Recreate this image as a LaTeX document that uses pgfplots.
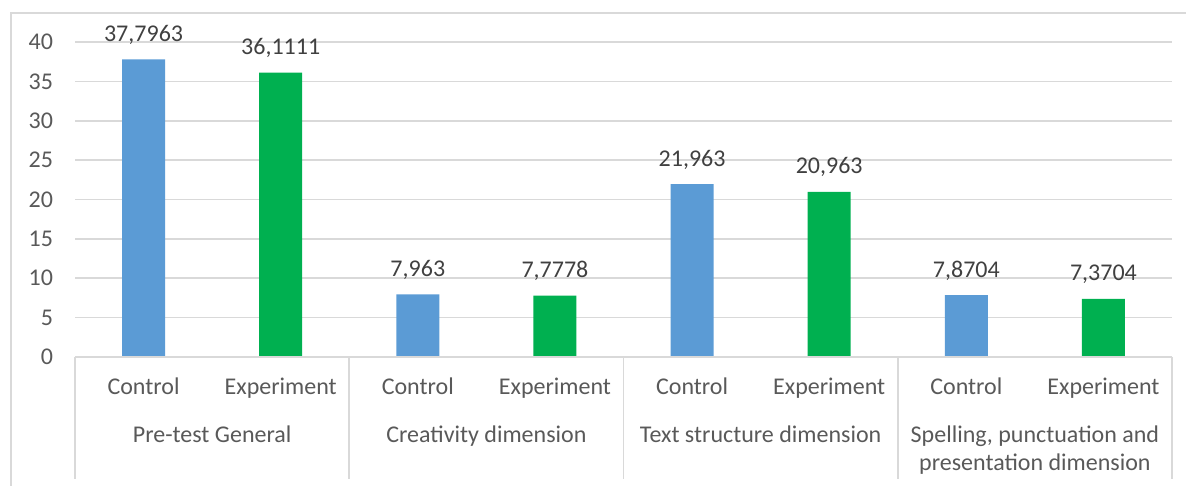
\documentclass[border=0pt]{standalone}
\usepackage{pgfplots}
\pgfplotsset{compat=1.18}
\usepackage{fontspec}
\setmainfont{Carlito}
\definecolor{cblue}{HTML}{5B9BD5}
\definecolor{cgreen}{HTML}{00B050}
\definecolor{cgrid}{HTML}{D9D9D9}
\definecolor{ctext}{HTML}{595959}
\definecolor{clab}{HTML}{404040}
\begin{document}
\begin{tikzpicture}[font=\fontsize{12}{14.4}\selectfont]
\useasboundingbox (0,0) rectangle (593pt,243pt);
\draw[cgrid, line width=0.9pt] (5.5pt,-5pt) -- (5.5pt,236.5pt) -- (600pt,236.5pt);
\begin{axis}[
  at={(37.5pt,64.5pt)}, anchor=south west,
  width=548.5pt, height=157.5pt, scale only axis,
  xmin=-0.5, xmax=7.5, ymin=0, ymax=40,
  ytick={0,5,...,40},
  xtick={0,1,...,7},
  xticklabels={Control,Experiment,Control,Experiment,Control,Experiment,Control,Experiment},
  axis line style={draw=none},
  major tick length=0pt,
  ymajorgrids, grid style={cgrid, line width=0.75pt},
  tick label style={text=ctext},
  /pgf/number format/assume math mode=true,
  yticklabel style={xshift=-7.5pt},
  xticklabel style={anchor=base, yshift=-19pt},
  ybar, bar width=21.5pt, bar shift=0pt,
  nodes near coords,
  point meta=explicit symbolic,
  every node near coord/.append style={anchor=base, yshift=9pt, text=clab, font=\fontsize{12}{14.4}\selectfont},
  clip=false,
]
\addplot[fill=cblue, draw=none] table[x=x, y=y, meta=lab] {
x y lab
0 37.7963 37,7963
2 7.963 7,963
4 21.963 21,963
6 7.8704 7,8704
};
\addplot[fill=cgreen, draw=none] table[x=x, y=y, meta=lab] {
x y lab
1 36.1111 36,1111
3 7.7778 7,7778
5 20.963 20,963
7 7.3704 7,3704
};
\draw[cgrid, line width=0.9pt] (axis cs:-0.5,0) -- (axis cs:7.5,0);
\draw[cgrid, line width=0.9pt] (axis cs:-0.5,0) -- ([yshift=-61pt]axis cs:-0.5,0);
\draw[cgrid, line width=0.9pt] (axis cs:1.5,0) -- ([yshift=-61pt]axis cs:1.5,0);
\draw[cgrid, line width=0.9pt] (axis cs:3.5,0) -- ([yshift=-61pt]axis cs:3.5,0);
\draw[cgrid, line width=0.9pt] (axis cs:5.5,0) -- ([yshift=-61pt]axis cs:5.5,0);
\draw[cgrid, line width=0.9pt] (axis cs:7.5,0) -- ([yshift=-61pt]axis cs:7.5,0);
\node[anchor=base, text=ctext] at ([yshift=-42.5pt]axis cs:0.5,0) {Pre-test General};
\node[anchor=base, text=ctext] at ([yshift=-42.5pt]axis cs:2.5,0) {Creativity dimension};
\node[anchor=base, text=ctext] at ([yshift=-42.5pt]axis cs:4.5,0) {Text structure dimension};
\node[anchor=base, text=ctext] at ([yshift=-42.5pt]axis cs:6.5,0) {Spelling, punctuation and};
\node[anchor=base, text=ctext] at ([yshift=-56.5pt]axis cs:6.5,0) {presentation dimension};
\end{axis}
\end{tikzpicture}
\end{document}
